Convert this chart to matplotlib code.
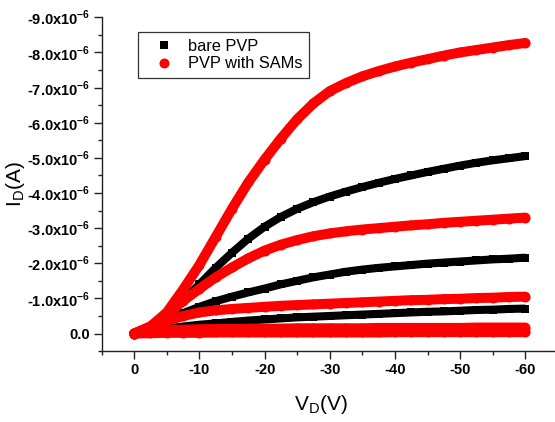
import matplotlib
matplotlib.use("Agg")
import matplotlib.pyplot as plt
import numpy as np
from matplotlib.ticker import FixedLocator, FixedFormatter, MultipleLocator

plt.rcParams['font.family'] = ['Liberation Sans', 'DejaVu Sans']
plt.rcParams['mathtext.fontset'] = 'custom'
plt.rcParams['mathtext.rm'] = 'Liberation Sans'
plt.rcParams['mathtext.bf'] = 'Liberation Sans:bold'

# drain voltage (V)
vd = [0, -2.5, -5, -7.5, -10, -12.5, -15, -17.5, -20, -22.5, -25, -27.5, -30,
      -32.5, -35, -37.5, -40, -42.5, -45, -47.5, -50, -52.5, -55, -57.5, -60]

# drain current, units of 1e-6 A (negative)
bare_1 = [0, -0.15, -0.5, -0.95, -1.4, -1.87, -2.3, -2.7, -3.04, -3.32, -3.55, -3.74, -3.9,
          -4.04, -4.17, -4.29, -4.4, -4.5, -4.6, -4.69, -4.78, -4.86, -4.93, -4.99, -5.05]
bare_2 = [0, -0.12, -0.36, -0.58, -0.76, -0.92, -1.05, -1.17, -1.28, -1.4, -1.5, -1.6, -1.68,
          -1.76, -1.82, -1.87, -1.91, -1.95, -1.99, -2.02, -2.05, -2.08, -2.11, -2.13, -2.16]
bare_3 = [0, -0.06, -0.14, -0.2, -0.25, -0.29, -0.33, -0.37, -0.4, -0.43, -0.46, -0.48, -0.5,
          -0.52, -0.54, -0.56, -0.58, -0.6, -0.62, -0.63, -0.65, -0.67, -0.68, -0.7, -0.71]
bare_4 = [0, -0.02, -0.03, -0.04, -0.05, -0.05, -0.06, -0.06, -0.06, -0.07, -0.07, -0.07, -0.07,
          -0.07, -0.08, -0.08, -0.08, -0.08, -0.08, -0.08, -0.09, -0.09, -0.09, -0.09, -0.09]

sam_1 = [0, -0.2, -0.6, -1.25, -1.95, -2.75, -3.55, -4.3, -4.95, -5.55, -6.1, -6.55, -6.9,
         -7.13, -7.32, -7.47, -7.6, -7.71, -7.81, -7.91, -8.0, -8.07, -8.14, -8.21, -8.27]
sam_2 = [0, -0.2, -0.52, -0.93, -1.27, -1.6, -1.88, -2.14, -2.36, -2.53, -2.66, -2.77, -2.85,
         -2.91, -2.96, -3.0, -3.04, -3.08, -3.11, -3.15, -3.18, -3.21, -3.24, -3.27, -3.3]
sam_3 = [0, -0.15, -0.35, -0.5, -0.6, -0.66, -0.7, -0.73, -0.76, -0.79, -0.81, -0.83, -0.85,
         -0.87, -0.89, -0.91, -0.93, -0.95, -0.96, -0.98, -0.99, -1.01, -1.02, -1.04, -1.05]
sam_4 = [0, -0.06, -0.09, -0.11, -0.12, -0.13, -0.13, -0.14, -0.14, -0.14, -0.15, -0.15, -0.15,
         -0.15, -0.15, -0.16, -0.16, -0.16, -0.16, -0.16, -0.16, -0.17, -0.17, -0.17, -0.17]
sam_5 = [0, -0.01, -0.02, -0.02, -0.02, -0.03, -0.03, -0.03, -0.03, -0.03, -0.03, -0.03, -0.03,
         -0.03, -0.03, -0.03, -0.04, -0.04, -0.04, -0.04, -0.04, -0.04, -0.04, -0.04, -0.04]

bare_curves = [bare_1, bare_2, bare_3, bare_4]
sam_curves = [sam_1, sam_2, sam_3, sam_4, sam_5]

x_ticks = [0, -10, -20, -30, -40, -50, -60]
x_labels = ['0', '-10', '-20', '-30', '-40', '-50', '-60']
y_ticks = [0, -1e-6, -2e-6, -3e-6, -4e-6, -5e-6, -6e-6, -7e-6, -8e-6, -9e-6]
y_labels = ['0.0'] + ['-%d.0x10$^{\\mathbf{-6}}$' % k for k in range(1, 10)]

fig = plt.figure(figsize=(5.55, 4.22), dpi=100)
ax = fig.add_axes([0.183, 0.168, 0.82, 0.791])

for i, cur in enumerate(bare_curves):
    ax.plot(vd, np.array(cur) * 1e-6, color='black', lw=5.8, marker='s', ms=5.8,
            mew=0, solid_capstyle='butt', label='bare PVP' if i == 0 else None)
for i, cur in enumerate(sam_curves):
    ax.plot(vd, np.array(cur) * 1e-6, color='red', lw=7.2, marker='o', ms=7.2,
            mew=0, solid_capstyle='round', label='PVP with SAMs' if i == 0 else None)

ax.set_xlim(5, -64.8)
ax.set_ylim(0.5e-6, -9.0e-6)

ax.xaxis.set_major_locator(FixedLocator(x_ticks))
ax.xaxis.set_major_formatter(FixedFormatter(x_labels))
ax.xaxis.set_minor_locator(MultipleLocator(5))
ax.yaxis.set_major_locator(FixedLocator(y_ticks))
ax.yaxis.set_major_formatter(FixedFormatter(y_labels))
ax.yaxis.set_minor_locator(MultipleLocator(0.5e-6))

ax.spines['top'].set_visible(False)
ax.spines['right'].set_visible(False)
for s in ['left', 'bottom']:
    ax.spines[s].set_linewidth(1.0)
    ax.spines[s].set_color('#222222')

ax.tick_params(which='major', direction='out', length=5.5, width=1.0, color='#222222', pad=3)
ax.tick_params(which='minor', direction='out', length=3, width=1.0, color='#222222')
for lab in ax.get_xticklabels() + ax.get_yticklabels():
    lab.set_fontweight('bold')
    lab.set_fontsize(10.5)

ax.set_xlabel('V$_\\mathrm{D}$(V)', fontsize=15)
ax.set_ylabel('I$_\\mathrm{D}$(A)', fontsize=15)
ax.xaxis.set_label_coords(0.482, -0.125)
ax.yaxis.set_label_coords(-0.163, 0.5)

leg = ax.legend(loc='upper left', bbox_to_anchor=(0.08, 0.955), borderaxespad=0,
                fontsize=11.8, frameon=True, fancybox=False, handlelength=2.4,
                handletextpad=0.25, borderpad=0.4, labelspacing=0.15)
leg.get_frame().set_edgecolor('black')
leg.get_frame().set_linewidth(0.9)
for h in leg.get_lines():
    h.set_linestyle('none')

fig.savefig('out.png', dpi=100)
